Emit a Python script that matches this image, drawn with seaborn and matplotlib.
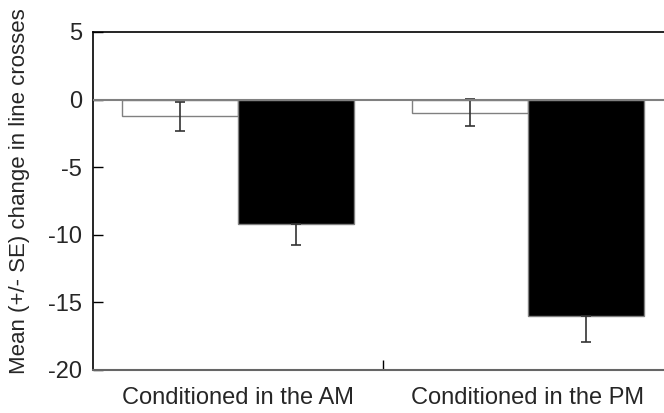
import matplotlib
matplotlib.use("Agg")
import matplotlib.pyplot as plt
import seaborn as sns
import pandas as pd
import numpy as np

categories = ["Conditioned in the AM", "Conditioned in the PM"]
groups = ["Control", "Treatment"]
control_means = [-1.25, -0.96]
control_se = [1.1, 1.0]
treatment_means = [-9.2, -16.0]
treatment_se = [1.55, 1.9]
y_ticks = [5, 0, -5, -10, -15, -20]

sns.set_theme(style="white")
plt.rcParams['font.family'] = ['Liberation Sans', 'DejaVu Sans']

df = pd.DataFrame({
    "category": categories * 2,
    "group": [groups[0]] * 2 + [groups[1]] * 2,
    "mean": control_means + treatment_means,
    "se": control_se + treatment_se,
})

fig = plt.figure(figsize=(6.64, 4.13), dpi=100)
ax = fig.add_axes([93 / 664, 1 - 370 / 413, (673 - 93) / 664, (370 - 32) / 413])

sns.barplot(data=df, x="category", y="mean", hue="group", order=categories,
            hue_order=groups, palette=["white", "black"], edgecolor="#808080",
            linewidth=1.0, width=0.8, errorbar=None, legend=False, ax=ax)

for cont, g in zip(ax.containers, groups):
    sub = df[df["group"] == g].set_index("category").loc[categories]
    xs = [p.get_x() + p.get_width() / 2 for p in cont]
    se = sub["se"].values
    if g == "Treatment":
        yerr = [se, np.zeros_like(se)]
    else:
        yerr = se
    ax.errorbar(xs, sub["mean"].values, yerr=yerr, fmt="none",
                ecolor="#333333", elinewidth=1.2, capsize=3.5, capthick=1.2, zorder=3)

ax.axhline(0, color="#808080", lw=1.5, zorder=4)
ax.set_ylim(-20, 5)
ax.set_xlim(-0.5, 1.5)
ax.set_yticks(y_ticks)
ax.set_yticklabels([str(t) for t in y_ticks])
ax.tick_params(axis="y", direction="in", length=7, width=1, color="black", labelsize=17, pad=8, left=True)
ax.set_xticks([0, 1])
ax.set_xticklabels(categories)
ax.tick_params(axis="x", which="major", length=0, labelsize=17, pad=12)
ax.set_xticks([0.5], minor=True)
ax.tick_params(axis="x", which="minor", direction="in", length=7, width=1, color="black", bottom=True)

ax.set_xlabel("")
ax.set_ylabel("Mean (+/- SE) change in line crosses", fontsize=16)
ax.yaxis.set_label_coords(-0.109, 0.53)

for s in ["left", "top"]:
    ax.spines[s].set_color("black")
    ax.spines[s].set_linewidth(1.2)
ax.spines["bottom"].set_color("#666666")
ax.spines["bottom"].set_linewidth(1.5)
ax.spines["right"].set_visible(False)

fig.savefig("out.png", dpi=100)
